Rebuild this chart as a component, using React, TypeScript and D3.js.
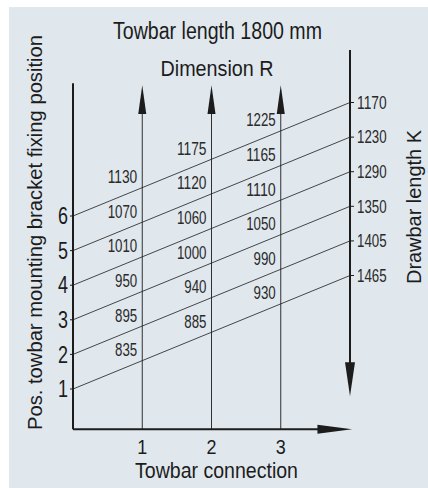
import React from "react";
import * as d3 from "d3";

const positions = [1, 2, 3, 4, 5, 6];
const connections = [1, 2, 3];
const dimR1 = [835, 895, 950, 1010, 1070, 1130];
const dimR2 = [885, 940, 1000, 1060, 1120, 1175];
const dimR3 = [930, 990, 1050, 1110, 1165, 1225];
const drawbarK = [1465, 1405, 1350, 1290, 1230, 1170];
const dimR = [dimR1, dimR2, dimR3];
const yTicks = [1, 2, 3, 4, 5, 6];
const xTicks = [1, 2, 3];

const W = 428;
const H = 488;
const RISE = 3.28; // vertical rise of each line across the chart, in position units
const FONT = "'Liberation Sans', Arial, sans-serif";
const DIGIT_W = 7.4; // condensed digit advance in the small labels

export default function App() {
  const x = d3.scaleLinear().domain([0, 4]).range([73, 350]);
  const y = d3.scaleLinear().domain([0, 10]).range([423.6, 77.6]);
  const lineAt = (pos: number, xv: number) => pos + (RISE * xv) / 4;
  const line = d3
    .line<[number, number]>()
    .x((d) => x(d[0]))
    .y((d) => y(d[1]));

  const ink = "#1c1c1c";
  const axBottom = -0.16;
  const axTop = 9.84;
  const numLen = (v: number) => String(v).length * DIGIT_W;

  return (
    <div style={{ position: "fixed", left: 0, top: 0, width: W, height: H, background: "#fff" }}>
      <svg width={W} height={H} style={{ display: "block" }} fontFamily={FONT}>
        <rect x={9} y={7} width={W - 9} height={H - 7} fill="#e0e8ee" />

        {/* titles */}
        <text x={217.5} y={39} textAnchor="middle" fontSize={23} fill={ink} textLength={209} lengthAdjust="spacingAndGlyphs">
          Towbar length 1800 mm
        </text>
        <text x={217} y={76} textAnchor="middle" fontSize={21.5} fill={ink} textLength={113} lengthAdjust="spacingAndGlyphs">
          Dimension R
        </text>
        <text
          transform={`translate(42,${(35 + 430) / 2}) rotate(-90)`}
          textAnchor="middle"
          fontSize={21}
          fill={ink}
          textLength={395}
          lengthAdjust="spacingAndGlyphs"
        >
          Pos. towbar mounting bracket fixing position
        </text>
        <text
          transform={`translate(421,${(130 + 284) / 2}) rotate(-90)`}
          textAnchor="middle"
          fontSize={21}
          fill={ink}
          textLength={154}
          lengthAdjust="spacingAndGlyphs"
        >
          Drawbar length K
        </text>
        <text x={216.5} y={478} textAnchor="middle" fontSize={21.5} fill={ink} textLength={163} lengthAdjust="spacingAndGlyphs">
          Towbar connection
        </text>

        {/* diagonal lines */}
        {positions.map((p) => (
          <path
            key={"l" + p}
            d={line([
              [0, p],
              [4, lineAt(p, 4)],
            ])!}
            stroke={ink}
            strokeWidth={0.8}
            fill="none"
          />
        ))}

        {/* vertical connection lines with arrows */}
        {connections.map((c) => (
          <g key={"c" + c}>
            <line x1={x(c)} x2={x(c)} y1={y(axBottom)} y2={y(9.1)} stroke={ink} strokeWidth={0.9} />
            <path
              d={`M${x(c)},${y(9.78)} L${x(c) - 4},${y(8.95)} L${x(c) + 4},${y(8.95)} Z`}
              fill={ink}
            />
          </g>
        ))}

        {/* left axis */}
        <line x1={x(0)} x2={x(0)} y1={y(axBottom)} y2={y(axTop)} stroke={ink} strokeWidth={2} />
        {yTicks.map((t) => (
          <g key={"yt" + t}>
            <line x1={x(0) - 3} x2={x(0)} y1={y(t)} y2={y(t)} stroke={ink} strokeWidth={1} />
            <text x={x(0) - 5} y={y(t)} dy="0.36em" textAnchor="end" fontSize={23} fill={ink} textLength={10} lengthAdjust="spacingAndGlyphs">
              {t}
            </text>
          </g>
        ))}

        {/* bottom axis */}
        <line x1={x(0)} x2={x(3.55)} y1={y(axBottom)} y2={y(axBottom)} stroke={ink} strokeWidth={2} />
        <path
          d={`M${x(4.03)},${y(axBottom)} L${x(3.53)},${y(axBottom) - 4.5} L${x(3.53)},${y(axBottom) + 4.5} Z`}
          fill={ink}
        />
        {xTicks.map((t) => (
          <text key={"xt" + t} x={x(t)} y={454} textAnchor="middle" fontSize={21} fill={ink} textLength={10} lengthAdjust="spacingAndGlyphs">
            {t}
          </text>
        ))}

        {/* right axis (Drawbar length K) */}
        <line x1={x(4)} x2={x(4)} y1={y(10.8)} y2={y(1.0)} stroke={ink} strokeWidth={2} />
        <path
          d={`M${x(4)},${y(0.79)} L${x(4) - 5},${y(1.77)} L${x(4) + 5},${y(1.77)} Z`}
          fill={ink}
        />
        {positions.map((p, i) => (
          <g key={"k" + p}>
            <line x1={x(4)} x2={x(4) + 4} y1={y(lineAt(p, 4))} y2={y(lineAt(p, 4))} stroke={ink} strokeWidth={1} />
            <text
              x={x(4) + 7}
              y={y(lineAt(p, 4))}
              dy="0.36em"
              fontSize={17.5}
              fill="#2a2a2a"
              textLength={numLen(drawbarK[i])}
              lengthAdjust="spacingAndGlyphs"
            >
              {drawbarK[i]}
            </text>
          </g>
        ))}

        {/* dimension R labels */}
        {connections.map((c, ci) =>
          positions.map((p, pi) => (
            <text
              key={`r${c}-${p}`}
              x={x(c) - 5}
              y={y(lineAt(p, c)) - 4.5}
              textAnchor="end"
              fontSize={17.5}
              fill="#2a2a2a"
              textLength={numLen(dimR[ci][pi])}
              lengthAdjust="spacingAndGlyphs"
            >
              {dimR[ci][pi]}
            </text>
          ))
        )}
      </svg>
    </div>
  );
}
